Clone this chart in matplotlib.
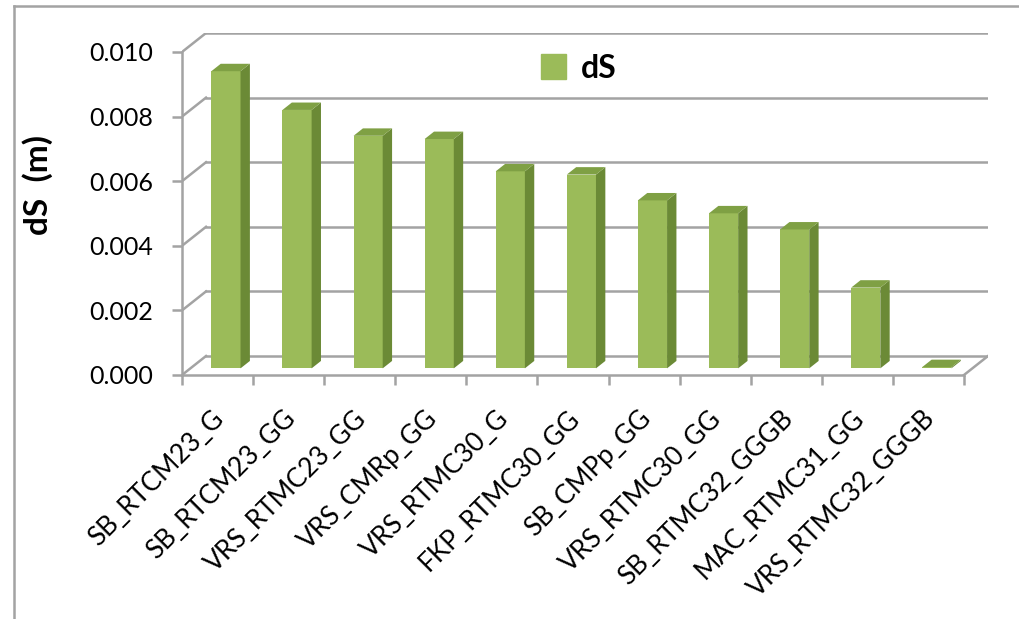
import numpy as np
import matplotlib
matplotlib.use("Agg")
import matplotlib.pyplot as plt
from matplotlib.patches import Patch, Polygon
from matplotlib.transforms import ScaledTranslation
from matplotlib.lines import Line2D

plt.rcParams['font.family'] = ['Lato', 'DejaVu Sans']

# data
categories = ['SB_RTCM23_G', 'SB_RTCM23_GG', 'VRS_RTMC23_GG', 'VRS_CMRp_GG',
              'VRS_RTMC30_G', 'FKP_RTMC30_GG', 'SB_CMPp_GG', 'VRS_RTMC30_GG',
              'SB_RTMC32_GGGB', 'MAC_RTMC31_GG', 'VRS_RTMC32_GGGB']
ds_values = [0.0092, 0.0080, 0.0072, 0.0071, 0.0061, 0.0060,
             0.0052, 0.0048, 0.0043, 0.0025, 0.00004]
y_ticks = [0.000, 0.002, 0.004, 0.006, 0.008, 0.010]

FRONT = '#9BBB59'
SIDE = '#6B8A36'
TOP = '#7FA044'
GRID = '#A3A3A3'

n = len(categories)
DX = 0.338        # depth offset of back wall, in category units
DY = 0.000588     # depth offset of back wall, in value units
d0, d1 = 0.35, 0.74
w = 0.41

fig = plt.figure(figsize=(10.19, 6.19), dpi=100)
ax = fig.add_axes([182 / 1019, 1 - 375 / 619, (988 - 182) / 1019, (375 - 33) / 619])
ax.set_xlim(-0.5, n - 0.5 + DX)
ax.set_ylim(0, 0.010 + DY)
ax.patch.set_visible(False)

# walls: back gridlines + left wall diagonals
for v in y_ticks:
    ax.plot([-0.5 + DX, n - 0.5 + DX], [v + DY, v + DY], color=GRID, lw=1.8, zorder=1)
    ax.plot([-0.5, -0.5 + DX], [v, v + DY], color=GRID, lw=1.8, zorder=1)
# floor right edge
ax.plot([n - 0.5, n - 0.5 + DX], [0, DY], color=GRID, lw=1.8, zorder=1)

# bars with fake 3d sides
x = np.arange(n)
ax.bar(x + d0 * DX, ds_values, width=w, bottom=d0 * DY, color=FRONT, zorder=3)
ddx = (d1 - d0) * DX
ddy = (d1 - d0) * DY
for xi, v in zip(x, ds_values):
    xl = xi + d0 * DX - w / 2
    xr = xi + d0 * DX + w / 2
    b = d0 * DY
    t = b + v
    ax.add_patch(Polygon([(xr, b), (xr + ddx, b + ddy), (xr + ddx, t + ddy), (xr, t)],
                         closed=True, color=SIDE, zorder=3, lw=0))
    ax.add_patch(Polygon([(xl, t), (xr, t), (xr + ddx, t + ddy), (xl + ddx, t + ddy)],
                         closed=True, color=TOP, zorder=3, lw=0))

# axes lines
for s in ['top', 'right']:
    ax.spines[s].set_visible(False)
ax.spines['left'].set_bounds(0, 0.010)
ax.spines['bottom'].set_bounds(-0.5, n - 0.5)
for s in ['left', 'bottom']:
    ax.spines[s].set_color(GRID)
    ax.spines[s].set_linewidth(1.8)

ax.set_yticks(y_ticks)
ax.set_yticklabels(['%.3f' % v for v in y_ticks])
ax.tick_params(axis='y', length=7, width=1.8, color=GRID, pad=14, labelsize=18)

ax.set_xticks(np.arange(n + 1) - 0.5)
ax.set_xticklabels([])
ax.tick_params(axis='x', which='major', length=7, width=1.8, color=GRID)
ax.set_xticks(x, minor=True)
ax.set_xticklabels(categories, minor=True, rotation=45, ha='right',
                   rotation_mode='anchor', fontsize=19)
ax.tick_params(axis='x', which='minor', length=0, pad=15)
off = ScaledTranslation(-6 / 100, -10 / 100, fig.dpi_scale_trans)
for lab in ax.xaxis.get_minorticklabels():
    lab.set_transform(lab.get_transform() + off)

ax.set_ylabel('dS  (m)', fontsize=24, fontweight='bold')
ax.yaxis.set_label_coords(53 / 1019, 1 - 185 / 619, transform=fig.transFigure)

fig.legend(handles=[Patch(color=FRONT)], labels=['dS'], loc='center left',
           bbox_to_anchor=(512 / 1019, 1 - 68 / 619), frameon=False,
           prop={'size': 23, 'weight': 'bold'}, handlelength=0.8, handleheight=0.8,
           handletextpad=0.45)

# chart border
fig.add_artist(Line2D([14 / 1019, 14 / 1019], [0, 1 - 6 / 619], color=GRID, lw=1.8,
                      transform=fig.transFigure))
fig.add_artist(Line2D([14 / 1019, 1], [1 - 6 / 619, 1 - 6 / 619], color=GRID, lw=1.8,
                      transform=fig.transFigure))

fig.savefig('out.png', dpi=100)
